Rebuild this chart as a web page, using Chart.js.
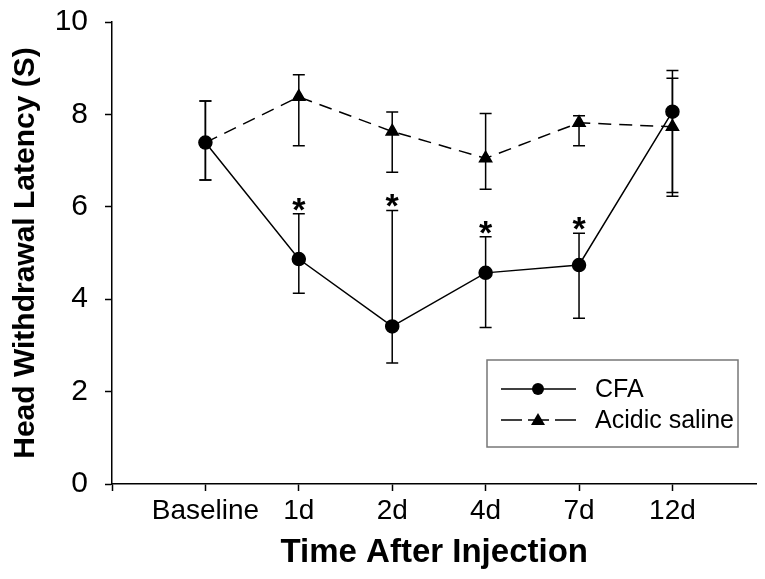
<!DOCTYPE html>
<html>
<head>
<meta charset="utf-8">
<script src="https://cdn.jsdelivr.net/npm/chart.js@4.4.1/dist/chart.umd.min.js"></script>
<style>
  html,body{margin:0;padding:0;background:#fff;}
  #wrap{width:765px;height:579px;}
</style>
</head>
<body>
<div id="wrap"><canvas id="chart" width="765" height="579"></canvas></div>
<script>
// time points
const categories = ['Baseline','1d','2d','4d','7d','12d'];
// CFA group: mean, top and bottom of error bar
const cfaMean  = [7.39, 4.87, 3.41, 4.57, 4.74, 8.06];
const cfaUpper = [8.29, 5.85, 5.92, 5.35, 5.43, 8.95];
const cfaLower = [6.58, 4.13, 2.62, 3.39, 3.59, 6.23];
// acidic saline group
const salineMean  = [7.39, 8.38, 7.63, 7.05, 7.82, 7.73];
const salineUpper = [8.29, 8.86, 8.05, 8.02, 7.97, 8.78];
const salineLower = [6.58, 7.32, 6.75, 6.38, 7.32, 6.31];
// asterisk over CFA
const significant = [false, true, true, true, true, false];
const yTicks = [0, 2, 4, 6, 8, 10];

const FONT = '"Liberation Sans", Arial, sans-serif';

function toPoints(arr){ return arr.map((v,i)=>({x:i+1, y:v})); }

const errorBars = {
  id:'errorBars',
  afterDatasetsDraw(chart){
    const {ctx, scales:{x,y}} = chart;
    const groups = [[salineUpper, salineLower], [cfaUpper, cfaLower]];
    ctx.save();
    ctx.strokeStyle = '#000';
    ctx.lineWidth = 1.5;
    for(const [up, lo] of groups){
      up.forEach((u,i)=>{
        const px = x.getPixelForValue(i+1);
        const pu = y.getPixelForValue(u), pl = y.getPixelForValue(lo[i]);
        ctx.beginPath();
        ctx.moveTo(px, pu); ctx.lineTo(px, pl);
        ctx.moveTo(px-6, pu); ctx.lineTo(px+6, pu);
        ctx.moveTo(px-6, pl); ctx.lineTo(px+6, pl);
        ctx.stroke();
      });
    }
    // asterisks
    ctx.fillStyle = '#000';
    ctx.font = 'bold 34px ' + FONT;
    ctx.textAlign = 'center';
    ctx.textBaseline = 'alphabetic';
    significant.forEach((s,i)=>{
      if(!s) return;
      const px = x.getPixelForValue(i+1);
      const pu = y.getPixelForValue(cfaUpper[i]);
      ctx.fillText('*', px, pu + 7);
    });
    ctx.restore();
  }
};

const boxLegend = {
  id:'boxLegend',
  afterDraw(chart){
    const {ctx, chartArea} = chart;
    const bx = chartArea.left + 375, by = chartArea.bottom - 124, bw = 251, bh = 87;
    ctx.save();
    ctx.strokeStyle = '#777';
    ctx.lineWidth = 1.5;
    ctx.strokeRect(bx, by, bw, bh);
    const lx0 = bx + 14, lx1 = bx + 89, mx = bx + 51;
    const r1 = by + 29, r2 = by + 60;
    ctx.strokeStyle = '#000';
    ctx.fillStyle = '#000';
    ctx.lineWidth = 1.5;
    ctx.beginPath(); ctx.moveTo(lx0, r1); ctx.lineTo(lx1, r1); ctx.stroke();
    ctx.beginPath(); ctx.arc(mx, r1, 6, 0, Math.PI*2); ctx.fill();
    ctx.setLineDash([21, 6]);
    ctx.beginPath(); ctx.moveTo(lx0, r2); ctx.lineTo(lx1, r2); ctx.stroke();
    ctx.setLineDash([]);
    ctx.beginPath();
    ctx.moveTo(mx, r2-7); ctx.lineTo(mx+7, r2+5); ctx.lineTo(mx-7, r2+5); ctx.closePath(); ctx.fill();
    ctx.font = '25px ' + FONT;
    ctx.textAlign = 'left';
    ctx.textBaseline = 'middle';
    ctx.fillText('CFA', bx + 108, r1 + 1);
    ctx.fillText('Acidic saline', bx + 108, r2 + 1);
    ctx.restore();
  }
};

function main(){
  const ctx = document.getElementById('chart').getContext('2d');
  new Chart(ctx, {
    type:'line',
    data:{ datasets:[
      { label:'Acidic saline', data:toPoints(salineMean), borderColor:'#000', backgroundColor:'#000',
        borderWidth:1.5, borderDash:[13,8], pointStyle:'triangle',
        pointRadius:(c)=> c.dataIndex===0 ? 0 : 7, pointHoverRadius:7 },
      { label:'CFA', data:toPoints(cfaMean), borderColor:'#000', backgroundColor:'#000',
        borderWidth:1.5, pointStyle:'circle', pointRadius:6.5, pointHoverRadius:6.5 }
    ]},
    options:{
      responsive:false,
      animation:false,
      layout:{ padding:{ top:22, right:0, left:0, bottom:0 } },
      plugins:{ legend:{ display:false }, tooltip:{ enabled:false } },
      scales:{
        x:{
          type:'linear', min:0, max:6.9,
          afterBuildTicks(s){ s.ticks = [0,1,2,3,4,5,6].map(v=>({value:v})); },
          afterFit(s){ s.height = 95; s.paddingLeft = 0; s.paddingRight = 0; },
          grid:{ display:true, drawOnChartArea:false, drawTicks:true, tickLength:7, tickColor:'#000', tickWidth:1.5 },
          border:{ display:true, color:'#000', width:1.5 },
          ticks:{ color:'#000', padding:3, maxRotation:0, autoSkip:false,
            font:{ family:FONT, size:28 },
            callback:(v)=> v>=1 ? categories[v-1] : '' },
          title:{ display:true, text:'Time After Injection', color:'#000',
            font:{ family:FONT, size:33, weight:'bold' }, padding:{ top:0, bottom:6 } }
        },
        y:{
          min:0, max:10,
          afterBuildTicks(s){ s.ticks = yTicks.map(v=>({value:v})); },
          afterFit(s){ s.width = 112; s.paddingTop = 0; s.paddingBottom = 0; },
          grid:{ display:true, drawOnChartArea:false, drawTicks:true, tickLength:7, tickColor:'#000', tickWidth:1.5 },
          border:{ display:true, color:'#000', width:1.5 },
          ticks:{ color:'#000', padding:17, font:{ family:FONT, size:30 } },
          title:{ display:true, text:'Head Withdrawal Latency (S)', color:'#000',
            font:{ family:FONT, size:30, weight:'bold' }, padding:{ top:8, bottom:0 } }
        }
      }
    },
    plugins:[errorBars, boxLegend]
  });
}
document.addEventListener('DOMContentLoaded', main);
</script>
</body>
</html>
